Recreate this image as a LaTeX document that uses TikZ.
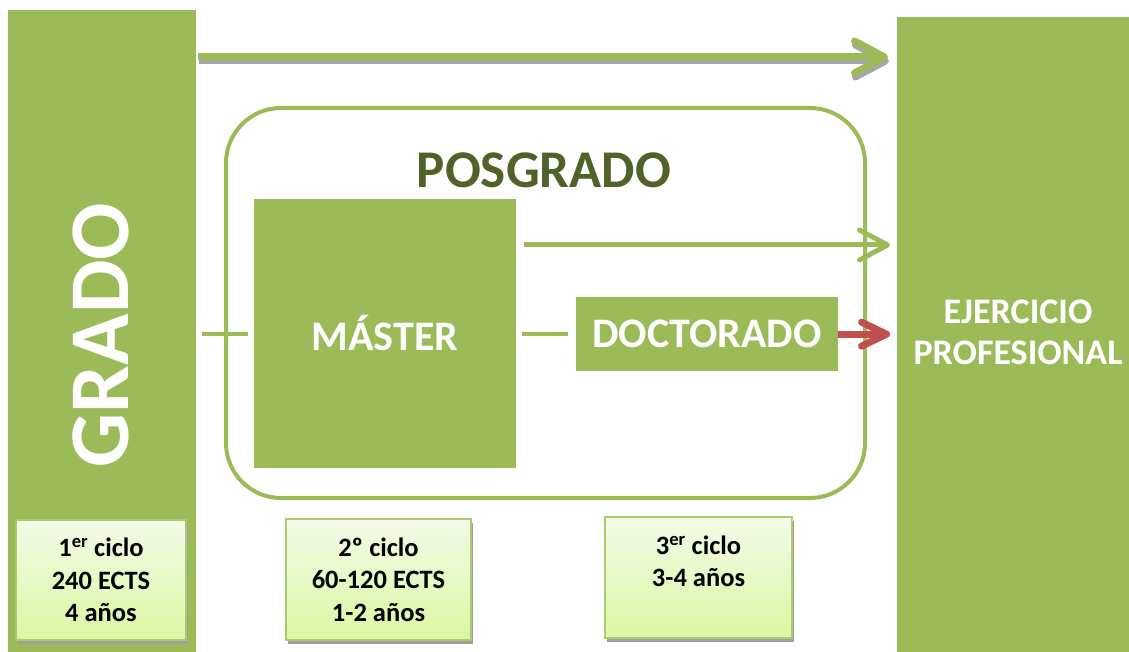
\documentclass[tikz,border=0pt]{standalone}
\usepackage{fontspec}
\setmainfont{Carlito}
\usetikzlibrary{arrows.meta,shadows}
\definecolor{ogreen}{HTML}{9BBB59}
\definecolor{dgreen}{HTML}{4F6228}
\definecolor{ored}{HTML}{C0504D}
\definecolor{boxtop}{HTML}{F3FBE8}
\definecolor{boxbot}{HTML}{DAF7A2}
\definecolor{boxline}{HTML}{AACB6E}
\tikzset{
  bar/.style={fill=ogreen, draw=none, anchor=north west, inner sep=0},
  whitetxt/.style={text=white, font=\bfseries},
  conn/.style={draw=ogreen, line width=4},
  barb/.style={-{Straight Barb[length=30pt,width=32pt,line cap=round,round]}},
  cyclebox/.style={draw=boxline, line width=1.5, top color=boxtop, bottom color=boxbot,
    align=center, font=\bfseries\fontsize{26.5}{32.5}\selectfont, inner sep=0,
    drop shadow={shadow xshift=2pt, shadow yshift=-4pt, fill=gray!75, opacity=1}},
}
\begin{document}
\begin{tikzpicture}[x=1pt,y=-1pt]
\useasboundingbox (0,0) rectangle (1129,652);
% side bars
\node[bar, minimum width=188, minimum height=642] (grado) at (8,10) {};
\node[whitetxt, rotate=90, font=\bfseries\fontsize{85}{85}\selectfont] (gradot) at (101,335) {GRADO};
\node[bar, minimum width=232, minimum height=635] (ejer) at (897,17) {};
\node[whitetxt, align=center, font=\bfseries\fontsize{36}{41}\selectfont] (ejert) at (1018,332) {EJERCICIO\\PROFESIONAL};
% posgrado frame
\node[draw=ogreen, line width=4, rounded corners=55, minimum width=639, minimum height=390, anchor=north west, inner sep=0] (pos) at (224,106) {};
\node[text=dgreen, font=\bfseries\fontsize{53}{53}\selectfont] (post) at (544,170) {POSGRADO};
% master and doctorado
\node[bar, minimum width=262, minimum height=269] (master) at (254,199) {};
\node[whitetxt, font=\bfseries\fontsize{42}{42}\selectfont] (mastert) at (385,333) {MÁSTER};
\node[bar, minimum width=262, minimum height=74] (doc) at (576,297) {};
\node[whitetxt, font=\bfseries\fontsize{42}{42}\selectfont] (doct) at (707,334) {DOCTORADO};
% connectors
\draw[conn, shorten <=6, shorten >=6] (grado.east |- master.west) -- (master.west);
\draw[conn, shorten <=6, shorten >=8] (master.east |- doc.west) -- (doc.west);
% top arrow with shadow
\coordinate (ta) at (grado.east |- 0,57);
\coordinate (tb) at (ejer.west |- 0,57);
\draw[draw=gray!70, line width=7, barb, shorten <=2, shorten >=9, transform canvas={xshift=1pt,yshift=-4pt}] (ta) -- (tb);
\draw[draw=ogreen, line width=7, barb, shorten <=2, shorten >=9] (ta) -- (tb);
% master arrow
\draw[draw=ogreen, line width=5, -{Straight Barb[length=28pt,width=30pt,line cap=round,round]}, shorten <=8, shorten >=7] (master.east |- 0,245) -- (ejer.west |- 0,245);
% red arrow
\draw[draw=ored, line width=7, -{Straight Barb[length=25pt,width=24pt,line cap=round,round]}, shorten >=7] (doc.east) -- (ejer.west |- doc.east);
% cycle boxes
\node[cyclebox, minimum width=170, minimum height=120] (c1) at (101,580) {1\textsuperscript{er} ciclo\\240 ECTS\\4 años};
\node[cyclebox, minimum width=185, minimum height=121] (c2) at (378.5,579.5) {2º ciclo\\60-120 ECTS\\1-2 años};
\node[cyclebox, minimum width=187, minimum height=121] (c3) at (698.5,577.5) {3\textsuperscript{er} ciclo\\3-4 años\\\mbox{}};
\end{tikzpicture}
\end{document}
